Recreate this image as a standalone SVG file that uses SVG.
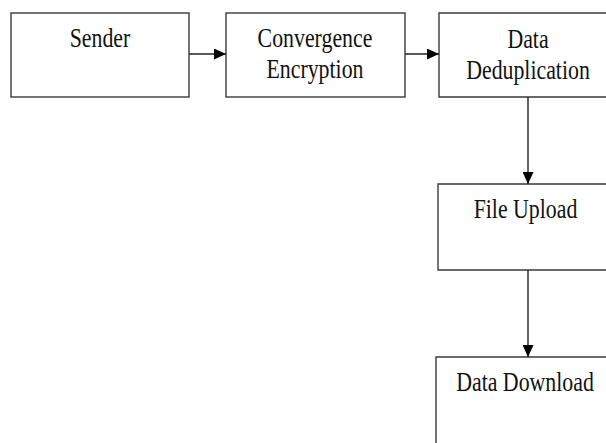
<svg xmlns="http://www.w3.org/2000/svg" width="606" height="443" viewBox="0 0 606 443">
  <style>
    .box { fill: #ffffff; stroke: #3a3a3a; stroke-width: 1.4; }
    .lbl { font-family: "Liberation Serif", "Times New Roman", serif; font-size: 28px; fill: #111111; text-anchor: middle; }
    .edge { stroke: #222222; stroke-width: 1.4; fill: none; marker-end: url(#head); }
  </style>
  <defs>
    <marker id="head" viewBox="0 0 12 11" refX="12" refY="5.5" markerWidth="12" markerHeight="11" markerUnits="userSpaceOnUse" orient="auto">
      <path d="M0,0 L12,5.5 L0,11 Z" fill="#000000"/>
    </marker>
  </defs>
  <rect width="606" height="443" fill="#ffffff"/>

  <!-- labels use a narrowed serif: each text is centred at its x, then squeezed horizontally -->
  <g id="sender">
    <rect class="box" x="11" y="13" width="178" height="84"/>
    <text class="lbl" transform="translate(100 47) scale(0.78 1)">Sender</text>
  </g>

  <g id="convergence-encryption">
    <rect class="box" x="226" y="13" width="179" height="84"/>
    <text class="lbl" transform="translate(315 47) scale(0.78 1)">Convergence</text>
    <text class="lbl" transform="translate(315 78) scale(0.78 1)">Encryption</text>
  </g>

  <!-- the right-hand column runs past the page edge, so its boxes are open on the right -->
  <g id="data-deduplication">
    <path class="box" d="M606,13 H439 V97 H606"/>
    <text class="lbl" transform="translate(528 48) scale(0.78 1)">Data</text>
    <text class="lbl" transform="translate(528 79) scale(0.78 1)">Deduplication</text>
  </g>

  <g id="file-upload">
    <path class="box" d="M606,184 H438 V270 H606"/>
    <text class="lbl" transform="translate(525.5 218) scale(0.78 1)">File Upload</text>
  </g>

  <g id="data-download">
    <path class="box" d="M606,357 H436 V443"/>
    <text class="lbl" transform="translate(525 391) scale(0.78 1)">Data Download</text>
  </g>

  <g id="connectors">
    <line class="edge" x1="189" y1="54" x2="226" y2="54"/>
    <line class="edge" x1="405" y1="54" x2="439" y2="54"/>
    <line class="edge" x1="528" y1="97" x2="528" y2="184"/>
    <line class="edge" x1="528" y1="270" x2="528" y2="357"/>
  </g>
</svg>
